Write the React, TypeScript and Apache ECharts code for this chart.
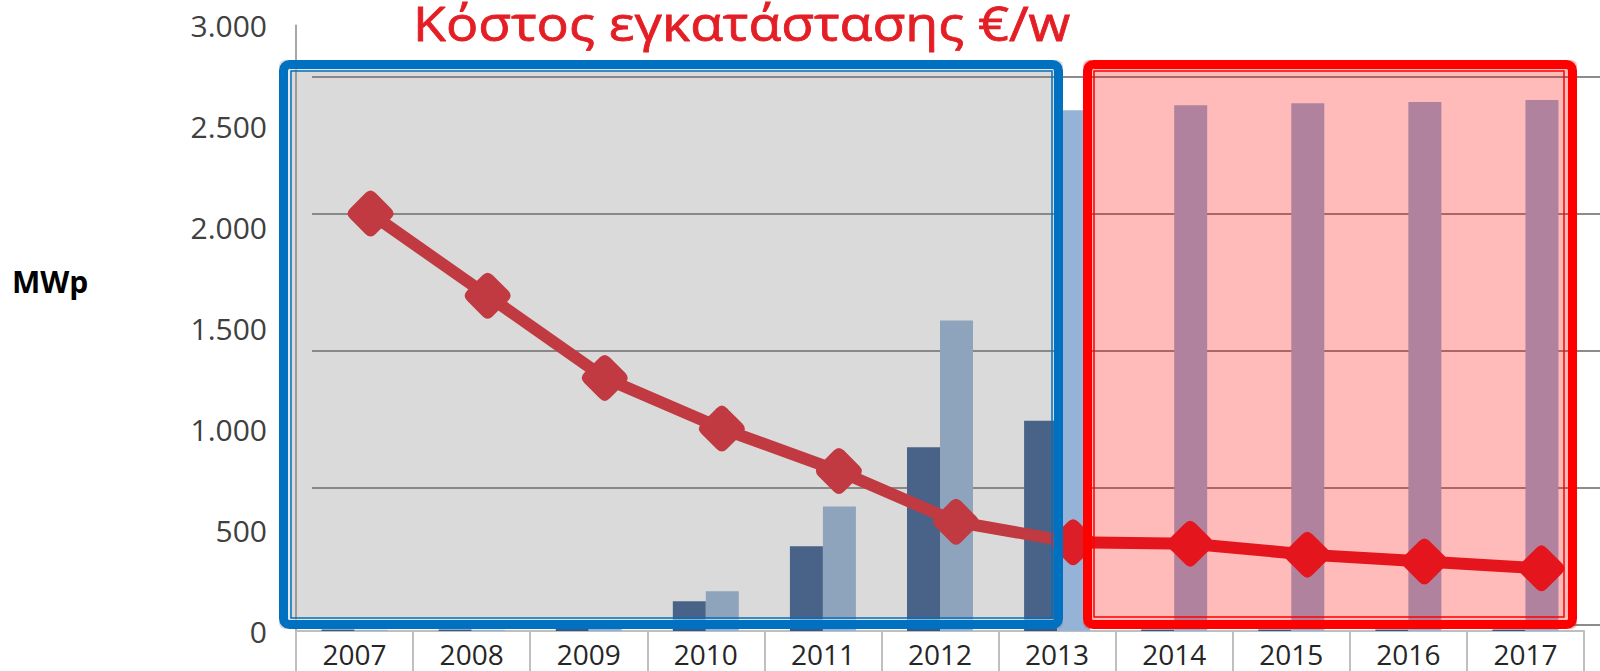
import React, { useEffect, useRef } from 'react';
import * as echarts from 'echarts';

const years = ['2007', '2008', '2009', '2010', '2011', '2012', '2013', '2014', '2015', '2016', '2017'];
const annualMWp = [8, 8, 40, 147, 420, 911, 1042, 8, 8, 8, 8];
const cumulativeMWp = [6, 6, 30, 197, 617, 1538, 2580, 2605, 2615, 2621, 2631];
const costEurPerW = [3.0, 2.4, 1.8, 1.43, 1.12, 0.75, 0.6, 0.59, 0.51, 0.46, 0.41];
const yTickLabels = ['0', '500', '1.000', '1.500', '2.000', '2.500', '3.000'];
const titleText = 'Κόστος εγκατάστασης €/w';
const axisTitle = 'MWp';

export default function App() {
  const ref = useRef<HTMLDivElement>(null);
  useEffect(() => {
    const chart = echarts.init(ref.current!, null, { renderer: 'svg' });
    const diamond =
      'path://M40,10 L10,40 Q0,50 10,60 L40,90 Q50,100 60,90 L90,60 Q100,50 90,40 L60,10 Q50,0 40,10 Z';
    chart.setOption({
      animation: false,
      backgroundColor: '#ffffff',
      grid: [
        { left: 296, right: 16, top: 25.5, bottom: 40 },
        { left: 312, right: 0, top: 76.5, bottom: 46.5 },
      ],
      xAxis: [
        {
          gridIndex: 0,
          type: 'category',
          data: years,
          boundaryGap: true,
          offset: 5,
          axisLine: { show: true, lineStyle: { color: '#bfbfbf', width: 2 } },
          axisTick: { show: true, interval: 0, length: 40, lineStyle: { color: '#bfbfbf', width: 2 } },
          axisLabel: {
            interval: 0,
            margin: 5,
            lineHeight: 26,
            fontFamily: 'Open Sans',
            fontSize: 28,
            color: '#262626',
          },
        },
        { gridIndex: 1, type: 'category', data: years, show: false },
      ],
      yAxis: [
        {
          gridIndex: 0,
          type: 'value',
          min: 0,
          max: 3000,
          interval: 500,
          axisLine: { show: true, lineStyle: { color: '#a6a6a6', width: 2 } },
          axisTick: { show: false },
          splitLine: { show: false },
          axisLabel: {
            margin: 29,
            padding: [0, 0, 4, 0],
            fontFamily: 'Open Sans',
            fontSize: 30,
            color: '#404040',
            formatter: (v: number) => yTickLabels[Math.round(v / 500)] ?? '',
          },
        },
        {
          gridIndex: 1,
          type: 'value',
          min: 0,
          max: 4,
          interval: 1,
          axisLine: { show: false },
          axisTick: { show: false },
          axisLabel: { show: false },
          splitLine: { show: true, lineStyle: { color: '#8c8c8c', width: 2 } },
        },
      ],
      series: [
        {
          type: 'bar',
          xAxisIndex: 0,
          yAxisIndex: 0,
          data: annualMWp,
          barWidth: 33,
          barGap: '0%',
          itemStyle: { color: '#34578a' },
        },
        {
          type: 'bar',
          xAxisIndex: 0,
          yAxisIndex: 0,
          data: cumulativeMWp,
          barWidth: 33,
          barGap: '0%',
          itemStyle: { color: '#95b3d7' },
        },
        {
          type: 'line',
          xAxisIndex: 1,
          yAxisIndex: 1,
          data: costEurPerW,
          symbol: diamond,
          symbolSize: 46,
          lineStyle: { color: '#dc1e28', width: 12 },
          itemStyle: { color: '#dc1e28' },
          z: 5,
        },
      ],
      graphic: [
        {
          type: 'rect',
          z: 100,
          silent: true,
          shape: { x: 279, y: 60, width: 784, height: 569, r: 6 },
          style: { fill: 'rgba(128,128,128,0.29)' },
        },
        {
          type: 'rect',
          z: 100,
          silent: true,
          shape: { x: 1083, y: 60, width: 494, height: 569, r: 6 },
          style: { fill: 'rgba(255,0,0,0.27)' },
        },
        {
          type: 'rect',
          z: 101,
          silent: true,
          shape: { x: 288.5, y: 68.5, width: 767, height: 552 },
          style: { fill: 'none', stroke: 'rgba(235,240,245,0.7)', lineWidth: 2.5 },
        },
        {
          type: 'rect',
          z: 102,
          silent: true,
          shape: { x: 283.5, y: 64.5, width: 775, height: 560, r: 6 },
          style: { fill: 'none', stroke: '#0070c0', lineWidth: 9 },
        },
        {
          type: 'rect',
          z: 102,
          silent: true,
          shape: { x: 291, y: 71, width: 761, height: 547 },
          style: { fill: 'none', stroke: '#0070c0', lineWidth: 1.5 },
        },
        {
          type: 'rect',
          z: 102,
          silent: true,
          shape: { x: 1087.5, y: 64.5, width: 485, height: 560, r: 6 },
          style: { fill: 'none', stroke: '#ff0000', lineWidth: 9 },
        },
        {
          type: 'rect',
          z: 102,
          silent: true,
          shape: { x: 1094, y: 71, width: 470, height: 546 },
          style: { fill: 'none', stroke: '#ff0000', lineWidth: 1.5 },
        },
        {
          type: 'text',
          z: 103,
          silent: true,
          x: 413,
          y: 23,
          scaleX: 1.12,
          style: {
            text: titleText,
            fontFamily: 'Open Sans',
            fontSize: 48,
            fill: '#e31e24',
            stroke: '#e31e24',
            lineWidth: 0.8,
            verticalAlign: 'middle',
          },
        },
        {
          type: 'text',
          z: 103,
          silent: true,
          x: 12,
          y: 281,
          style: {
            text: axisTitle,
            fontFamily: 'Open Sans',
            fontWeight: 'bold',
            fontSize: 30,
            fill: '#000000',
            verticalAlign: 'middle',
          },
        },
      ],
    });
    return () => chart.dispose();
  }, []);
  return <div ref={ref} style={{ position: 'fixed', left: 0, top: 0, width: 1600, height: 671 }} />;
}
